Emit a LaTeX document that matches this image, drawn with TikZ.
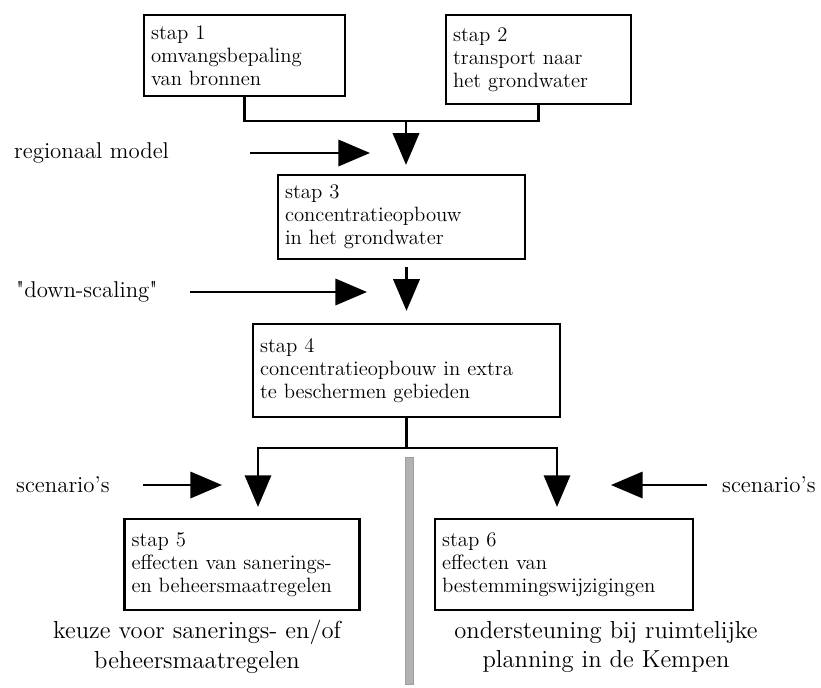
\documentclass[tikz,border=0pt]{standalone}
\usepackage{tikz}
\usetikzlibrary{arrows.meta, positioning}

\begin{document}
\begin{tikzpicture}[x=0.02cm,y=-0.02cm,
          stapbox/.style={draw,line width=1.3pt,align=left,inner xsep=4pt,
                          inner ysep=3pt,font=\fontsize{11.8}{13.2}\selectfont},
          invoer/.style={anchor=west,font=\fontsize{13}{15}\selectfont},
          uitkomst/.style={align=center,font=\fontsize{14}{17}\selectfont},
          pijl/.style={-{Triangle[length=18pt,width=15pt]},line width=1.3pt}]
        \useasboundingbox (0,0) rectangle (821,687);
        \node[stapbox,text width=3.74cm,minimum height=1.62cm](s1) at (244.5,55.5){stap 1\\omvangsbepaling\\van bronnen};
        \node[stapbox,text width=3.42cm,minimum height=1.78cm](s2) at (538.5,59.5){stap 2\\transport naar\\het grondwater};
        \node[stapbox,text width=4.66cm,minimum height=1.68cm](s3) at (401.5,217){stap 3\\concentratieopbouw\\in het grondwater};
        \node[stapbox,text width=5.86cm,minimum height=1.86cm](s4) at (406.5,370.5){stap 4\\concentratieopbouw in extra\\te beschermen gebieden};
        \node[stapbox,text width=4.42cm,minimum height=1.82cm](s5) at (242,564.5){stap 5\\effecten van sanerings-\\en beheersmaatregelen};
        \node[stapbox,text width=4.88cm,minimum height=1.82cm](s6) at (564,564.5){stap 6\\effecten van\\bestemmingswijzigingen};
        \node[invoer](regio) at (8,153){regionaal model};
        \node[invoer](schaal) at (10,292){\textquotedbl down-scaling\textquotedbl};
        \node[invoer](scen5) at (10,485){scenario's};
        \node[invoer](scen6) at (716,485){scenario's};
        \node[uitkomst](keuze) at (197,647){keuze voor sanerings- en/of\\beheersmaatregelen};
        \node[uitkomst](steun) at (606,647){ondersteuning bij ruimtelijke\\planning in de Kempen};
        \coordinate (j12) at (406,121);
        \coordinate (j45) at (406.5,448);
        \coordinate (a5) at (258,448);
        \coordinate (a6) at (557,448);
        \coordinate (regio1) at (250,153);
        \coordinate (regio2) at (370,153);
        \coordinate (schaal1) at (190,292);
        \coordinate (schaal2) at (367,292);
        \coordinate (scen51) at (143,485);
        \coordinate (scen52) at (222,485);
        \coordinate (scen61) at (707,485);
        \coordinate (scen62) at (611,485);
        % samenvoegen stap 1 en 2
        \draw[line width=1.3pt](s1.south) |- (j12) -| (s2.south);
        \draw[pijl,shorten >=9*0.02cm](j12) -- (j12 |- s3.north);
        \draw[pijl,shorten <=7*0.02cm,shorten >=12*0.02cm](s4.north |- s3.south) -- (s4.north);
        \draw[pijl,shorten >=11*0.02cm](s4.south) |- (a5) -- (a5 |- s5.north);
        \draw[pijl,shorten >=11*0.02cm](s4.south) |- (a6) -- (a6 |- s6.north);
        \draw[pijl](regio1) -- (regio2);
        \draw[pijl](schaal1) -- (schaal2);
        \draw[pijl](scen51) -- (scen52);
        \draw[pijl](scen61) -- (scen62);
        % scheiding
        \fill[gray!60,draw=gray!75](405,457) rectangle (413,684);
      \end{tikzpicture}
\end{document}
